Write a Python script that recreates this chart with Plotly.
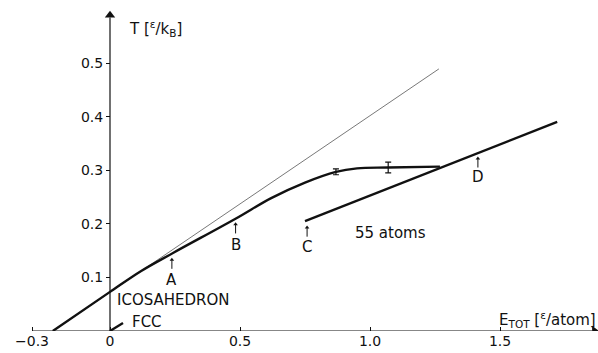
import plotly.graph_objects as go

# ---- data ----
thin_x = [-0.22, 1.265]
thin_y = [0.0, 0.489]

icosa_x = [-0.22, 0.0, 0.12, 0.244, 0.481, 0.62, 0.75, 0.869, 0.95, 1.07, 1.269]
icosa_y = [0.0, 0.073, 0.112, 0.146, 0.209, 0.248, 0.277, 0.297, 0.3035, 0.305, 0.3066]

liquid_x = [0.75, 1.72]
liquid_y = [0.205, 0.39]

fcc_x = [0.0, 0.05]
fcc_y = [0.0, 0.015]

err_x = [0.869, 1.07]
err_y = [0.297, 0.305]
err_v = [0.0055, 0.010]

xtick_vals = [-0.3, 0.0, 0.5, 1.0, 1.5]
xtick_text = ["\u22120.3", "0", "0.5", "1.0", "1.5"]
ytick_vals = [0.1, 0.2, 0.3, 0.4, 0.5]
ytick_text = ["0.1", "0.2", "0.3", "0.4", "0.5"]

marks = ["A", "B", "C", "D"]
mark_x = [0.238, 0.483, 0.758, 1.415]
mark_tip = [0.136, 0.202, 0.196, 0.325]
mark_lbl = [0.095, 0.160, 0.157, 0.287]

axis_x_end = 1.875
axis_y_end = 0.595

FONT = "DejaVu Sans"
INK = "#111"

fig = go.Figure()
# axes (lines + arrowheads)
fig.add_trace(go.Scatter(x=[-0.3, axis_x_end - 0.02], y=[0, 0], mode="lines",
                         line=dict(color=INK, width=1.2), hoverinfo="skip"))
fig.add_trace(go.Scatter(x=[axis_x_end - 0.012], y=[0], mode="markers",
                         marker=dict(symbol="triangle-right", size=9, color=INK), hoverinfo="skip"))
fig.add_trace(go.Scatter(x=[0, 0], y=[0, axis_y_end - 0.01], mode="lines",
                         line=dict(color=INK, width=1.2), hoverinfo="skip"))
fig.add_trace(go.Scatter(x=[0], y=[axis_y_end - 0.006], mode="markers",
                         marker=dict(symbol="triangle-up", size=9, color=INK), hoverinfo="skip"))

# curves
fig.add_trace(go.Scatter(x=thin_x, y=thin_y, mode="lines",
                         line=dict(color="#555", width=0.8), hoverinfo="skip"))
fig.add_trace(go.Scatter(x=icosa_x, y=icosa_y, mode="lines",
                         line=dict(color=INK, width=2.4, shape="spline", smoothing=1.0),
                         hoverinfo="skip"))
fig.add_trace(go.Scatter(x=liquid_x, y=liquid_y, mode="lines",
                         line=dict(color=INK, width=2.4), hoverinfo="skip"))
fig.add_trace(go.Scatter(x=fcc_x, y=fcc_y, mode="lines",
                         line=dict(color=INK, width=2.4), hoverinfo="skip"))
fig.add_trace(go.Scatter(x=err_x, y=err_y, mode="markers",
                         marker=dict(size=1, color=INK),
                         error_y=dict(type="data", array=err_v, visible=True,
                                      color=INK, thickness=1.2, width=3),
                         hoverinfo="skip"))

# small arrows A-D
for mx, mt in zip(mark_x, mark_tip):
    fig.add_trace(go.Scatter(x=[mx, mx], y=[mt - 0.02, mt - 0.004], mode="lines",
                             line=dict(color=INK, width=1), hoverinfo="skip"))
    fig.add_trace(go.Scatter(x=[mx], y=[mt - 0.003], mode="markers",
                             marker=dict(symbol="triangle-up", size=4, color=INK),
                             hoverinfo="skip"))

ann = []
ann.append(dict(x=0.065, y=0.565, xref="x", yref="y", xanchor="left", yanchor="middle",
                text="T [<sup>\u03b5</sup>/k<sub>B</sub>]", showarrow=False,
                font=dict(family=FONT, size=15, color=INK)))
ann.append(dict(x=1.875, y=0.022, xref="x", yref="y", xanchor="right", yanchor="middle",
                text="E<sub>TOT</sub> [<sup>\u03b5</sup>/atom]", showarrow=False,
                font=dict(family=FONT, size=15, color=INK)))
ann.append(dict(x=0.02, y=0.058, xref="x", yref="y", xanchor="left", yanchor="middle",
                text="ICOSAHEDRON", showarrow=False, font=dict(family=FONT, size=15, color=INK)))
ann.append(dict(x=0.077, y=0.017, xref="x", yref="y", xanchor="left", yanchor="middle",
                text="FCC", showarrow=False, font=dict(family=FONT, size=15, color=INK)))
ann.append(dict(x=0.935, y=0.183, xref="x", yref="y", xanchor="left", yanchor="middle",
                text="55 atoms", showarrow=False, font=dict(family=FONT, size=15, color=INK)))
for m, mx, ml in zip(marks, mark_x, mark_lbl):
    ann.append(dict(x=mx, y=ml, xref="x", yref="y", xanchor="center", yanchor="middle",
                    text=m, showarrow=False, font=dict(family=FONT, size=15, color=INK)))

fig.update_layout(
    width=598, height=353,
    margin=dict(l=0, r=0, t=0, b=22),
    paper_bgcolor="white", plot_bgcolor="white",
    showlegend=False,
    annotations=ann,
    xaxis=dict(range=[-110 / 260, 488 / 260], showgrid=False, zeroline=False, showline=False,
               tickmode="array", tickvals=xtick_vals, ticktext=xtick_text,
               ticks="inside", ticklen=4, tickcolor=INK,
               tickfont=dict(family=FONT, size=14, color=INK)),
    yaxis=dict(range=[0, 331 / 536], showgrid=False, zeroline=False, showline=False,
               anchor="free", position=110 / 598,
               tickmode="array", tickvals=ytick_vals, ticktext=ytick_text,
               ticks="outside", ticklen=4, tickcolor=INK,
               tickfont=dict(family=FONT, size=14, color=INK)),
)

fig.write_html("out.html")
